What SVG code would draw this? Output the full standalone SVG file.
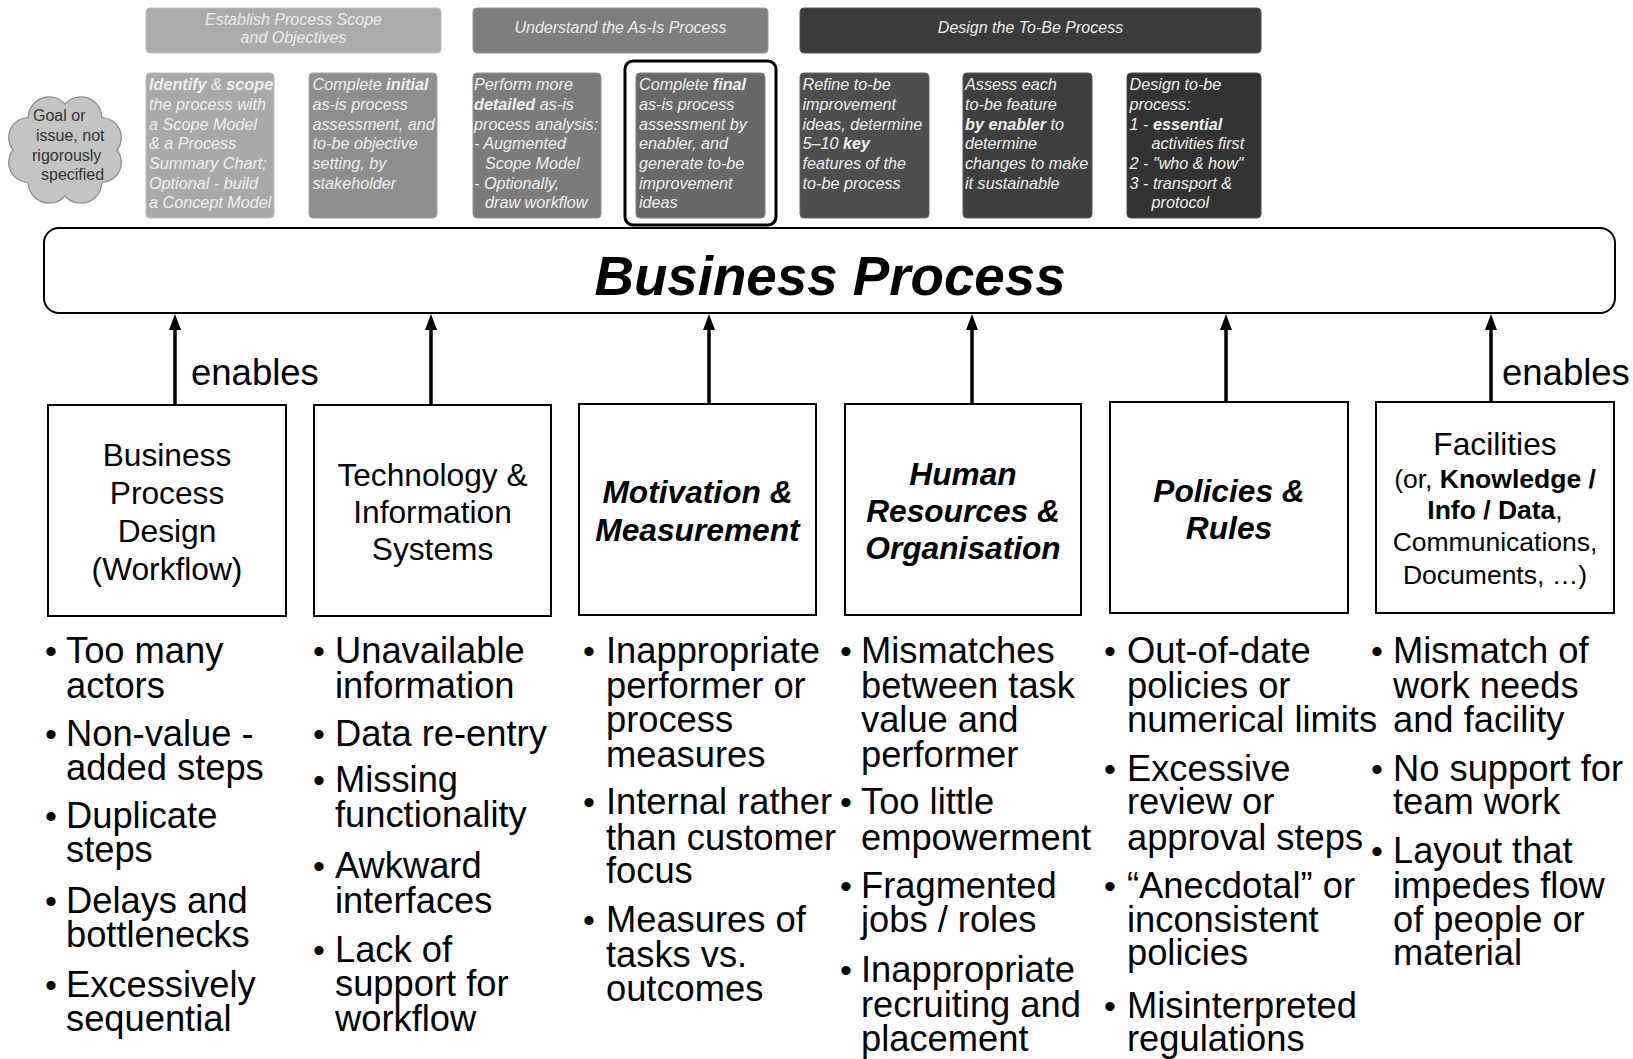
<svg xmlns="http://www.w3.org/2000/svg" width="1633" height="1059" viewBox="0 0 1633 1059">
<style>
text{font-family:"Liberation Sans",Arial,sans-serif;}
.hdr{font-size:16px;font-style:italic;fill:#ececec;text-anchor:middle;}
.st{font-size:16.2px;font-style:italic;fill:#f0f0f0;}
.b{font-weight:bold;}
.box{fill:#ffffff;stroke:#000;stroke-width:2;}
.lbl{font-size:31.7px;fill:#000;text-anchor:middle;}
.lbi{font-size:31.7px;fill:#000;text-anchor:middle;font-weight:bold;font-style:italic;}
.fac{font-size:26.5px;fill:#000;text-anchor:middle;}
.bl{font-size:36.3px;fill:#000;}
.dot{font-size:34px;fill:#000;text-anchor:middle;}
.en{font-size:36.5px;fill:#000;}
.conn{stroke:#000;stroke-width:3.5;fill:none;marker-end:url(#ah);}
</style>
<defs>
<marker id="ah" viewBox="0 0 16 12" refX="0" refY="6" markerWidth="16" markerHeight="12" markerUnits="userSpaceOnUse" orient="auto">
<path d="M0,0 L16,6 L0,12 z" fill="#000"/>
</marker>
</defs>
<rect width="1633" height="1059" fill="#ffffff"/>

<g id="cloud">
<path d="M13,150 A20,20 0 0 1 28.2,117.5 A21,21 0 0 1 65,104 A21,21 0 0 1 101.8,117.5 A20,20 0 0 1 117,150 A20,20 0 0 1 101.8,182.5 A21,21 0 0 1 65,196 A21,21 0 0 1 28.2,182.5 A20,20 0 0 1 13,150 Z" fill="#c4c4c4" stroke="#8a8a8a" stroke-width="1.2"/>
<text font-size="16" fill="#333"><tspan x="33" y="121">Goal or</tspan><tspan x="36" y="141">issue, not</tspan><tspan x="32" y="161">rigorously</tspan><tspan x="41" y="180">specified</tspan></text>
</g>

<g id="phase-establish">
<rect x="146" y="8" width="295" height="45" rx="4" fill="#ababab" stroke="#bdbdbd" stroke-width="1"/>
<text class="hdr"><tspan x="293.5" y="25">Establish Process Scope</tspan><tspan x="293.5" y="43">and Objectives</tspan></text>
</g>
<g id="phase-understand">
<rect x="473" y="8" width="295" height="45" rx="4" fill="#7e7e7e" stroke="#959595" stroke-width="1"/>
<text class="hdr" x="620.5" y="33">Understand the As-Is Process</text>
</g>
<g id="phase-design">
<rect x="800" y="8" width="461" height="45" rx="4" fill="#3b3b3b" stroke="#555" stroke-width="1"/>
<text class="hdr" x="1030.5" y="33">Design the To-Be Process</text>
</g>

<g id="step-identify">
<rect x="146" y="73" width="128" height="145" rx="4" fill="#a9a9a9" stroke="#bcbcbc" stroke-width="1"/>
<text class="st"><tspan x="149" y="90"><tspan class="b">Identify</tspan> &amp; <tspan class="b">scope</tspan></tspan><tspan x="149" y="110">the process with</tspan><tspan x="149" y="129.5">a Scope Model</tspan><tspan x="149" y="149">&amp; a Process</tspan><tspan x="149" y="168.5">Summary Chart;</tspan><tspan x="149" y="188.5">Optional - build</tspan><tspan x="149" y="208">a Concept Model</tspan></text>
</g>
<g id="step-initial">
<rect x="309" y="73" width="128" height="145" rx="4" fill="#8e8e8e" stroke="#a5a5a5" stroke-width="1"/>
<text class="st"><tspan x="312.5" y="90">Complete <tspan class="b">initial</tspan></tspan><tspan x="312.5" y="110">as-is process</tspan><tspan x="312.5" y="129.5">assessment, and</tspan><tspan x="312.5" y="149">to-be objective</tspan><tspan x="312.5" y="168.5">setting, by</tspan><tspan x="312.5" y="188.5">stakeholder</tspan></text>
</g>
<g id="step-detailed">
<rect x="473" y="73" width="128" height="145" rx="4" fill="#7b7b7b" stroke="#939393" stroke-width="1"/>
<text class="st"><tspan x="474" y="90">Perform more</tspan><tspan x="474" y="110"><tspan class="b">detailed</tspan> as-is</tspan><tspan x="474" y="129.5">process analysis:</tspan><tspan x="474" y="149">- Augmented</tspan><tspan x="485" y="168.5">Scope Model</tspan><tspan x="474" y="188.5">- Optionally,</tspan><tspan x="485" y="208">draw workflow</tspan></text>
</g>
<g id="step-final">
<rect x="636" y="73" width="129" height="145" rx="4" fill="#686868" stroke="#808080" stroke-width="1"/>
<text class="st"><tspan x="639" y="90">Complete <tspan class="b">final</tspan></tspan><tspan x="639" y="110">as-is process</tspan><tspan x="639" y="129.5">assessment by</tspan><tspan x="639" y="149">enabler, and</tspan><tspan x="639" y="168.5">generate to-be</tspan><tspan x="639" y="188.5">improvement</tspan><tspan x="639" y="208">ideas</tspan></text>
</g>
<rect x="625" y="61" width="151" height="164" rx="8" fill="none" stroke="#000" stroke-width="3"/>
<g id="step-refine">
<rect x="800" y="73" width="129" height="145" rx="4" fill="#4e4e4e" stroke="#666" stroke-width="1"/>
<text class="st"><tspan x="802.5" y="90">Refine to-be</tspan><tspan x="802.5" y="110">improvement</tspan><tspan x="802.5" y="129.5">ideas, determine</tspan><tspan x="802.5" y="149">5–10 <tspan class="b">key</tspan></tspan><tspan x="802.5" y="168.5">features of the</tspan><tspan x="802.5" y="188.5">to-be process</tspan></text>
</g>
<g id="step-assess">
<rect x="963" y="73" width="129" height="145" rx="4" fill="#3f3f3f" stroke="#585858" stroke-width="1"/>
<text class="st"><tspan x="965" y="90">Assess each</tspan><tspan x="965" y="110">to-be feature</tspan><tspan x="965" y="129.5"><tspan class="b">by enabler</tspan> to</tspan><tspan x="965" y="149">determine</tspan><tspan x="965" y="168.5">changes to make</tspan><tspan x="965" y="188.5">it sustainable</tspan></text>
</g>
<g id="step-design">
<rect x="1127" y="73" width="134" height="145" rx="4" fill="#333333" stroke="#4d4d4d" stroke-width="1"/>
<text class="st"><tspan x="1129.5" y="90">Design to-be</tspan><tspan x="1129.5" y="110">process:</tspan><tspan x="1129.5" y="129.5">1 - <tspan class="b">essential</tspan></tspan><tspan x="1151.5" y="149">activities first</tspan><tspan x="1129.5" y="168.5">2 - "who &amp; how"</tspan><tspan x="1129.5" y="188.5">3 - transport &amp;</tspan><tspan x="1151.5" y="208">protocol</tspan></text>
</g>

<g id="business-process">
<rect x="44" y="228" width="1571" height="85" rx="15" fill="#fff" stroke="#000" stroke-width="2"/>
<text x="830" y="295" font-size="54.7" font-weight="bold" font-style="italic" text-anchor="middle" fill="#000">Business Process</text>
</g>

<g id="connectors">
<line class="conn" x1="175" y1="405" x2="175" y2="330"/>
<line class="conn" x1="431" y1="405" x2="431" y2="330"/>
<line class="conn" x1="709" y1="404" x2="709" y2="330"/>
<line class="conn" x1="972" y1="404" x2="972" y2="330"/>
<line class="conn" x1="1226" y1="402" x2="1226" y2="330"/>
<line class="conn" x1="1491" y1="402" x2="1491" y2="330"/>
<text class="en" x="191" y="385">enables</text>
<text class="en" x="1502" y="385">enables</text>
</g>

<g id="enabler-workflow">
<rect class="box" x="48" y="405" width="238" height="211"/>
<text class="lbl"><tspan x="167" y="466">Business</tspan><tspan x="167" y="504">Process</tspan><tspan x="167" y="541.5">Design</tspan><tspan x="167" y="579.5">(Workflow)</tspan></text>
</g>
<g id="enabler-technology">
<rect class="box" x="314" y="405" width="237" height="211"/>
<text class="lbl"><tspan x="432.5" y="485.5">Technology &amp;</tspan><tspan x="432.5" y="523">Information</tspan><tspan x="432.5" y="560">Systems</tspan></text>
</g>
<g id="enabler-motivation">
<rect class="box" x="579" y="404" width="237" height="211"/>
<text class="lbi"><tspan x="697.5" y="503">Motivation &amp;</tspan><tspan x="697.5" y="540.5">Measurement</tspan></text>
</g>
<g id="enabler-hr">
<rect class="box" x="845" y="404" width="236" height="211"/>
<text class="lbi"><tspan x="963" y="485">Human</tspan><tspan x="963" y="522">Resources &amp;</tspan><tspan x="963" y="559">Organisation</tspan></text>
</g>
<g id="enabler-policies">
<rect class="box" x="1110" y="402" width="238" height="211"/>
<text class="lbi"><tspan x="1229" y="501.5">Policies &amp;</tspan><tspan x="1229" y="538.5">Rules</tspan></text>
</g>
<g id="enabler-facilities">
<rect class="box" x="1376" y="402" width="238" height="211"/>
<text class="lbl" x="1495" y="455">Facilities</text>
<text class="fac"><tspan x="1495" y="488">(or, <tspan class="b">Knowledge /</tspan></tspan><tspan x="1495" y="519"><tspan class="b">Info / Data</tspan>,</tspan><tspan x="1495" y="551">Communications,</tspan><tspan x="1495" y="583.5">Documents, …)</tspan></text>
</g>

<g id="issues-workflow">
<text class="dot" x="51" y="663">•</text><text class="dot" x="51" y="745.5">•</text><text class="dot" x="51" y="828">•</text><text class="dot" x="51" y="913">•</text><text class="dot" x="51" y="996.5">•</text>
<text class="bl"><tspan x="66" y="663">Too many</tspan><tspan x="66" y="697.5">actors</tspan><tspan x="66" y="745.5">Non-value -</tspan><tspan x="66" y="780">added steps</tspan><tspan x="66" y="828">Duplicate</tspan><tspan x="66" y="862">steps</tspan><tspan x="66" y="913">Delays and</tspan><tspan x="66" y="947">bottlenecks</tspan><tspan x="66" y="996.5">Excessively</tspan><tspan x="66" y="1031">sequential</tspan></text>
</g>
<g id="issues-technology">
<text class="dot" x="319" y="663">•</text><text class="dot" x="319" y="745.5">•</text><text class="dot" x="319" y="791.5">•</text><text class="dot" x="319" y="878">•</text><text class="dot" x="319" y="961.5">•</text>
<text class="bl"><tspan x="335" y="663">Unavailable</tspan><tspan x="335" y="697.5">information</tspan><tspan x="335" y="745.5">Data re-entry</tspan><tspan x="335" y="791.5">Missing</tspan><tspan x="335" y="826.5">functionality</tspan><tspan x="335" y="878">Awkward</tspan><tspan x="335" y="913">interfaces</tspan><tspan x="335" y="961.5">Lack of</tspan><tspan x="335" y="995.5">support for</tspan><tspan x="335" y="1031">workflow</tspan></text>
</g>
<g id="issues-motivation">
<text class="dot" x="589" y="663">•</text><text class="dot" x="589" y="814">•</text><text class="dot" x="589" y="931.5">•</text>
<text class="bl"><tspan x="606" y="663">Inappropriate</tspan><tspan x="606" y="697.5">performer or</tspan><tspan x="606" y="731.5">process</tspan><tspan x="606" y="766.5">measures</tspan><tspan x="606" y="814">Internal rather</tspan><tspan x="606" y="849.5">than customer</tspan><tspan x="606" y="883">focus</tspan><tspan x="606" y="931.5">Measures of</tspan><tspan x="606" y="966.5">tasks vs.</tspan><tspan x="606" y="1001">outcomes</tspan></text>
</g>
<g id="issues-hr">
<text class="dot" x="846" y="663">•</text><text class="dot" x="846" y="814">•</text><text class="dot" x="846" y="897.5">•</text><text class="dot" x="846" y="981.5">•</text>
<text class="bl"><tspan x="861" y="663">Mismatches</tspan><tspan x="861" y="697.5">between task</tspan><tspan x="861" y="731.5">value and</tspan><tspan x="861" y="766.5">performer</tspan><tspan x="861" y="814">Too little</tspan><tspan x="861" y="849.5">empowerment</tspan><tspan x="861" y="897.5">Fragmented</tspan><tspan x="861" y="931.5">jobs / roles</tspan><tspan x="861" y="981.5">Inappropriate</tspan><tspan x="861" y="1016.5">recruiting and</tspan><tspan x="861" y="1051">placement</tspan></text>
</g>
<g id="issues-policies">
<text class="dot" x="1110" y="663">•</text><text class="dot" x="1110" y="781">•</text><text class="dot" x="1110" y="897.5">•</text><text class="dot" x="1110" y="1017.5">•</text>
<text class="bl"><tspan x="1127" y="663">Out-of-date</tspan><tspan x="1127" y="697.5">policies or</tspan><tspan x="1127" y="731.5">numerical limits</tspan><tspan x="1127" y="781">Excessive</tspan><tspan x="1127" y="814">review or</tspan><tspan x="1127" y="849.5">approval steps</tspan><tspan x="1127" y="897.5">“Anecdotal” or</tspan><tspan x="1127" y="931.5">inconsistent</tspan><tspan x="1127" y="965">policies</tspan><tspan x="1127" y="1017.5">Misinterpreted</tspan><tspan x="1127" y="1051">regulations</tspan></text>
</g>
<g id="issues-facilities">
<text class="dot" x="1377" y="663">•</text><text class="dot" x="1377" y="781">•</text><text class="dot" x="1377" y="863">•</text>
<text class="bl"><tspan x="1393" y="663">Mismatch of</tspan><tspan x="1393" y="697.5">work needs</tspan><tspan x="1393" y="731.5">and facility</tspan><tspan x="1393" y="781">No support for</tspan><tspan x="1393" y="814">team work</tspan><tspan x="1393" y="863">Layout that</tspan><tspan x="1393" y="897.5">impedes flow</tspan><tspan x="1393" y="931.5">of people or</tspan><tspan x="1393" y="965">material</tspan></text>
</g>
</svg>
